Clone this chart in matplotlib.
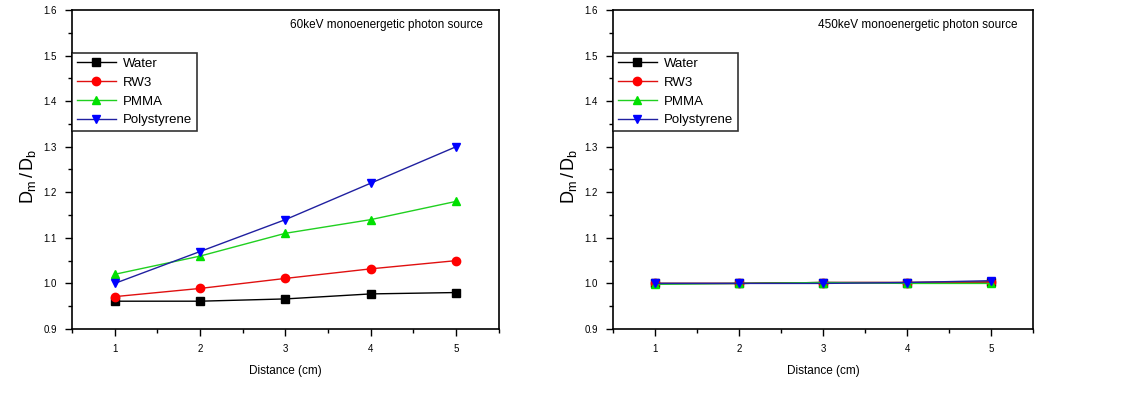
import numpy as np
import matplotlib.pyplot as plt
from matplotlib.ticker import MultipleLocator

plt.rcParams['font.family'] = ['Liberation Sans', 'DejaVu Sans']
plt.rcParams['mathtext.fontset'] = 'custom'
plt.rcParams['mathtext.rm'] = 'Liberation Sans'
plt.rcParams['mathtext.it'] = 'Liberation Sans'

distance = [1, 2, 3, 4, 5]
series_names = ['Water', 'RW3', 'PMMA', 'Polystyrene']

# 60 keV source
water_60 = [0.961, 0.961, 0.966, 0.977, 0.980]
rw3_60 = [0.971, 0.989, 1.011, 1.032, 1.050]
pmma_60 = [1.020, 1.060, 1.110, 1.140, 1.180]
poly_60 = [1.000, 1.070, 1.140, 1.220, 1.300]

# 450 keV source
water_450 = [1.000, 1.000, 1.002, 1.002, 1.003]
rw3_450 = [1.000, 1.000, 1.002, 1.002, 1.003]
pmma_450 = [0.998, 1.000, 1.002, 1.000, 1.000]
poly_450 = [1.000, 1.000, 1.000, 1.002, 1.006]

titles = ['60keV monoenergetic photon source', '450keV monoenergetic photon source']

styles = [
    dict(color='black', marker='s', mfc='black', mec='black'),
    dict(color='#e01010', marker='o', mfc='#ff0000', mec='#ff0000'),
    dict(color='#20d020', marker='^', mfc='#00e000', mec='#00e000'),
    dict(color='#2020a0', marker='v', mfc='#0000ff', mec='#0000ff'),
]

fig = plt.figure(figsize=(11.29, 4.09), dpi=100)
ax1 = fig.add_axes([0.0638, 0.1956, 0.378, 0.78])
ax2 = fig.add_axes([0.543, 0.1956, 0.372, 0.78])

panels = [(ax1, [water_60, rw3_60, pmma_60, poly_60]),
          (ax2, [water_450, rw3_450, pmma_450, poly_450])]

for (ax, data), title in zip(panels, titles):
    for name, vals, st in zip(series_names, data, styles):
        ax.plot(distance, vals, label=name, lw=1.0, ms=6, **st)
    ax.set_xlim(0.5, 5.5)
    ax.set_ylim(0.9, 1.6)
    ax.xaxis.set_major_locator(MultipleLocator(1))
    ax.xaxis.set_minor_locator(MultipleLocator(0.5))
    ax.yaxis.set_major_locator(MultipleLocator(0.1))
    ax.yaxis.set_minor_locator(MultipleLocator(0.05))
    ax.yaxis.set_major_formatter(plt.FormatStrFormatter('%.1f'))
    ax.tick_params(which='major', direction='out', length=5, width=1, labelsize=7, pad=6)
    ax.tick_params(which='minor', direction='out', length=3, width=1)
    for sp in ax.spines.values():
        sp.set_linewidth(1.2)
    ax.set_xlabel('Distance (cm)', fontsize=8.5, labelpad=8)
    ax.set_ylabel('$D_m\\,/\\,D_b$', fontsize=13)
    ax.yaxis.set_label_coords(-0.08, 0.48)
    ax.text(0.963, 0.953, title, transform=ax.transAxes, ha='right', va='center', fontsize=8.5)
    leg = ax.legend(loc='upper left', bbox_to_anchor=(0.0, 0.865), fontsize=9.5,
                    frameon=True, fancybox=False, edgecolor='black',
                    handlelength=3.0, borderpad=0.35, labelspacing=0.5, handletextpad=0.5,
                    borderaxespad=0)
    leg.get_frame().set_linewidth(1.2)

fig.savefig('out.png', dpi=100, facecolor='white')
